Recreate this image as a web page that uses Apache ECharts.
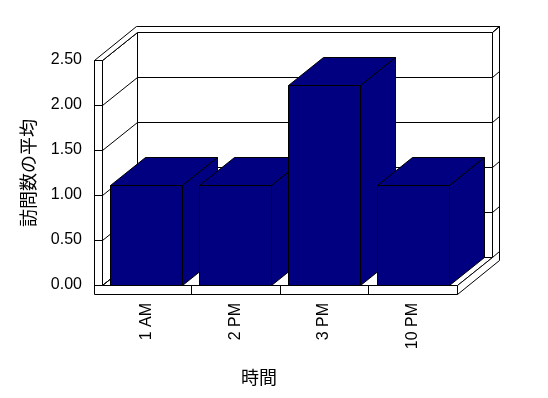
<!DOCTYPE html>
<html><head><meta charset="utf-8">
<script src="https://cdn.jsdelivr.net/npm/echarts@6/dist/echarts.min.js"></script>
<style>html,body{margin:0;padding:0;background:#fff}#c{width:548px;height:398px}</style>
</head><body><div id="c"></div>
<script>
// ---- data ----
const categories = ['1 AM', '2 PM', '3 PM', '10 PM'];
const averageVisits = [1.11, 1.11, 2.22, 1.11];
const yTicks = [0, 0.5, 1, 1.5, 2, 2.5];
const yAxisTitle = '訪問数の平均';
const xAxisTitle = '時間';

// ---- 3D look (styles) ----
const DX = 35, DY = -28.3;   // depth projection in px
const T = 0.21;              // back wall thickness, fraction of depth
const WALL = 8, FLOOR = 9;   // left wall / floor slab thickness px
const BAR_RATIO = 0.81;
const NAVY = '#000080';

function P(x, y, z) { return [Math.round(x + z * DX) + 0.5, Math.round(y + z * DY) + 0.5]; }

const chart = echarts.init(document.getElementById('c'), null, { renderer: 'canvas' });

function renderFrame(params, api) {
  const band = api.size([1, 0])[0];
  const X0 = api.coord([0, 0])[0] - band / 2;
  const X1 = api.coord([categories.length - 1, 0])[0] + band / 2;
  const Y0 = api.coord([0, 0])[1];
  const Yt = api.coord([0, yTicks[yTicks.length - 1]])[1];
  const Yb = Y0 + FLOOR;
  const XL = X0 - WALL;
  const ch = [];
  const poly = (pts) => ch.push({ type: 'polygon', shape: { points: pts }, style: { fill: '#fff', stroke: '#000', lineWidth: 1 } });
  const line = (a, b) => ch.push({ type: 'line', shape: { x1: a[0], y1: a[1], x2: b[0], y2: b[1] }, style: { stroke: '#000', lineWidth: 1 } });
  // inner faces
  poly([P(X0, Yt, 1), P(X1, Yt, 1), P(X1, Y0, 1), P(X0, Y0, 1)]);
  poly([P(X0, Y0, 0), P(X0, Yt, 0), P(X0, Yt, 1), P(X0, Y0, 1)]);
  poly([P(X0, Y0, 0), P(X1, Y0, 0), P(X1, Y0, 1), P(X0, Y0, 1)]);
  yTicks.forEach(v => {
    const y = api.coord([0, v])[1];
    line(P(X0, y, 1), P(X1, y, 1));
    line(P(X0, y, 0), P(X0, y, 1));
  });
  // slab faces
  poly([P(XL, Yt, 0), P(X0, Yt, 0), P(X0, Yt, 1), P(X1, Yt, 1), P(X1, Yt, 1 + T), P(XL, Yt, 1 + T)]);
  poly([P(X1, Yt, 1), P(X1, Yt, 1 + T), P(X1, Yb, 1 + T), P(X1, Yb, 0), P(X1, Y0, 0), P(X1, Y0, 1)]);
  poly([P(XL, Yt, 0), P(X0, Yt, 0), P(X0, Y0, 0), P(X1, Y0, 0), P(X1, Yb, 0), P(XL, Yb, 0)]);
  yTicks.forEach(v => {
    const y = api.coord([0, v])[1];
    line(P(XL, y, 0), P(X0, y, 0));
    line(P(X1, y, 1), P(X1, y, 1 + T));
  });
  for (let i = 1; i < categories.length; i++) {
    const x = X0 + band * i;
    line(P(x, Y0, 0), P(x, Yb, 0));
  }
  return { type: 'group', children: ch };
}

function renderBar(params, api) {
  const i = api.value(0), v = api.value(1);
  const c = api.coord([i, v]), b = api.coord([i, 0]);
  const w = api.size([1, 0])[0] * BAR_RATIO;
  const x0 = c[0] - w / 2, x1 = c[0] + w / 2, yt = c[1], y0 = b[1];
  const st = { fill: NAVY, stroke: '#000', lineWidth: 1 };
  return {
    type: 'group', children: [
      { type: 'polygon', shape: { points: [P(x0, yt, 0), P(x1, yt, 0), P(x1, yt, 1), P(x0, yt, 1)] }, style: st },
      { type: 'polygon', shape: { points: [P(x1, y0, 0), P(x1, yt, 0), P(x1, yt, 1), P(x1, y0, 1)] }, style: st },
      { type: 'polygon', shape: { points: [P(x0, yt, 0), P(x1, yt, 0), P(x1, y0, 0), P(x0, y0, 0)] }, style: st }
    ]
  };
}

const labelFont = { fontSize: 16, color: '#000', fontFamily: '"Liberation Sans", Arial, sans-serif' };

chart.setOption({
  animation: false,
  backgroundColor: '#fff',
  grid: { left: 102, right: 91, top: 60, bottom: 113 },
  xAxis: {
    type: 'category', data: categories,
    axisLine: { show: false }, axisTick: { show: false }, splitLine: { show: false },
    axisLabel: Object.assign({ rotate: 90, margin: 18, interval: 0 }, labelFont)
  },
  yAxis: {
    type: 'value', min: 0, max: 2.5, interval: 0.5,
    axisLine: { show: false }, axisTick: { show: false }, splitLine: { show: false },
    axisLabel: Object.assign({ margin: 20, formatter: v => v.toFixed(2) }, labelFont)
  },
  graphic: [
    { type: 'text', x: 28, y: 173, rotation: Math.PI / 2,
      style: { text: yAxisTitle, fontSize: 18, fontFamily: '"Noto Sans CJK JP", sans-serif', fill: '#000', align: 'center', verticalAlign: 'middle' } },
    { type: 'text', x: 259, y: 377,
      style: { text: xAxisTitle, fontSize: 18, fontFamily: '"Noto Sans CJK JP", sans-serif', fill: '#000', align: 'center', verticalAlign: 'middle' } }
  ],
  series: [
    { type: 'custom', name: 'frame', data: [[0, 0]], renderItem: renderFrame, clip: false, silent: true, z: 1 },
    { type: 'custom', name: '訪問数の平均', data: averageVisits.map((v, i) => [i, v]), encode: { x: 0, y: 1 }, renderItem: renderBar, clip: false, z: 2 }
  ]
});
</script>
</body></html>
